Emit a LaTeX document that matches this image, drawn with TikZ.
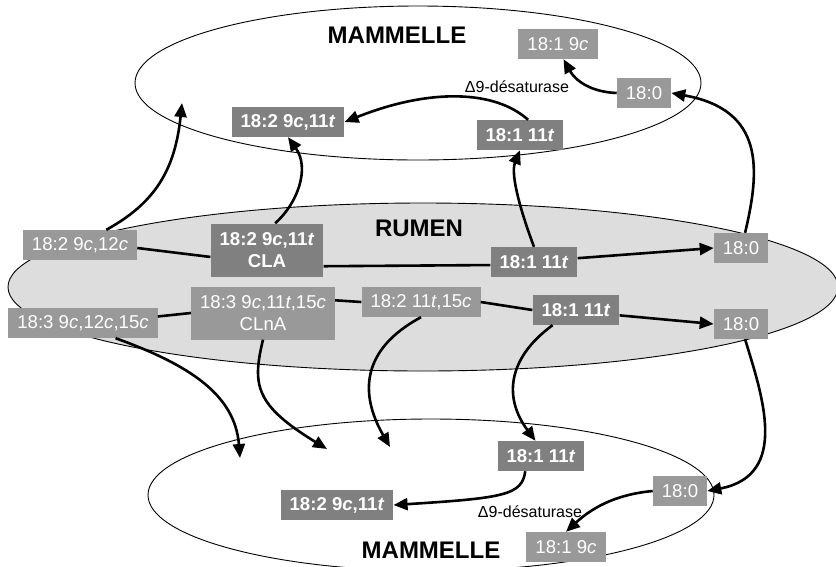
\documentclass[tikz,border=0pt]{standalone}
\usepackage{fontspec}
\setmainfont{Liberation Sans}
\usepackage{tikz}
\usetikzlibrary{arrows.meta}

\definecolor{acidclair}{RGB}{153,153,153}
\definecolor{acidfonce}{RGB}{128,128,128}
\definecolor{rumenfond}{RGB}{221,221,221}

\tikzset{
  acide/.style={fill=acidclair,text=white,inner xsep=9pt,inner ysep=0pt,minimum height=30pt,font=\fontsize{18.6}{22}\selectfont},
  acidegras/.style={acide,fill=acidfonce,font=\fontsize{18.6}{22}\selectfont\bfseries},
  deuxlignes/.style={align=center,minimum height=53pt},
  flux/.style={line width=2.6pt,-{Triangle[length=14pt,width=12pt]}},
  lien/.style={line width=2.6pt},
  titre/.style={font=\fontsize{24}{24}\selectfont\bfseries},
  enzyme/.style={font=\fontsize{16}{16}\selectfont}
}

\begin{document}
\begin{tikzpicture}[x=1pt,y=-1pt]
\useasboundingbox (0,0) rectangle (836,566);
\draw[line width=0.9pt] (418,83) ellipse [x radius=283, y radius=77];
\draw[line width=0.9pt,fill=rumenfond] (423,287) ellipse [x radius=415, y radius=84];
\draw[line width=0.9pt] (431,495) ellipse [x radius=283, y radius=76];

\node (tTitre) at (397,35) [titre] {MAMMELLE};
\node (tE) at (558,44) [acide] {18:1 9\textit{c}};
\node (tD) at (644,93) [acide] {18:0};
\node (tC) at (520,135) [acidegras] {18:1 11\textit{t}};
\node (tB) at (288,122) [acidegras] {18:2 9\textit{c},11\textit{t}};
\node (tEnz) at (517,87) [enzyme] {Δ9-désaturase};

\node (rTitre) at (419,228) [titre] {RUMEN};
\node (rA) at (80,245) [acide] {18:2 9\textit{c},12\textit{c}};
\node (rB) at (267,250) [acidegras,deuxlignes] {18:2 9\textit{c},11\textit{t}\\CLA};
\node (rC) at (534,262) [acidegras] {18:1 11\textit{t}};
\node (rD) at (741,248) [acide] {18:0};
\node (rE) at (83,323) [acide] {18:3 9\textit{c},12\textit{c},15\textit{c}};
\node (rF) at (263,313) [acide,deuxlignes] {18:3 9\textit{c},11\textit{t},15\textit{c}\\CLnA};
\node (rG) at (421,302) [acide] {18:2 11\textit{t},15\textit{c}};
\node (rH) at (576,310) [acidegras] {18:1 11\textit{t}};
\node (rI) at (741,324) [acide] {18:0};

\node (bTitre) at (431,550) [titre] {MAMMELLE};
\node (bD) at (541,456) [acidegras] {18:1 11\textit{t}};
\node (bF) at (337,505) [acidegras] {18:2 9\textit{c},11\textit{t}};
\node (bE) at (680,491) [acide] {18:0};
\node (bG) at (566,547) [acide] {18:1 9\textit{c}};
\node (bEnz) at (530,512) [enzyme] {Δ9-désaturase};

\coordinate (cHaut) at (182,103);
\coordinate (cBas1) at (240,458);
\coordinate (cBas2) at (327,449);
\coordinate (cBas3) at (390,447);

\draw[flux] (rA.30) .. controls (155,203) and (175,170) .. (cHaut);
\draw[flux] (rB.73) .. controls (298,203) and (310,168) .. (tB.south);
\draw[flux] (rC.north) .. controls (522,215) and (510,175) .. (tC.south);
\draw[flux] (rD.75) .. controls (760,170) and (765,110) .. (tD.east);
\draw[flux] (tC.62) .. controls (495,90) and (430,88) .. (tB.east);
\draw[flux] (tD.west) .. controls (590,92) and (575,80) .. (tE.-70);

\draw[lien] (rA.-3) -- (rB.187);
\draw[lien] (rB.-16) -- (rC.184);
\draw[flux] (rC.5) -- (rD.west);
\draw[lien] (rE.5) -- (rF.west);
\draw[lien] (rF.10) -- (rG.west);
\draw[lien] (rG.east) -- (rH.west);
\draw[flux] (rH.-7) -- (rI.west);

\draw[flux] (rE.-25) .. controls (190,365) and (235,395) .. (cBas1);
\draw[flux] (rF.south) .. controls (252,385) and (255,405) .. (cBas2);
\draw[flux] (rG.south) .. controls (360,350) and (360,395) .. (cBas3);
\draw[flux] (rH.-147) .. controls (505,360) and (505,400) .. (bD.110);
\draw[flux] (rI.-75) .. controls (762,395) and (790,475) .. (bE.east);
\draw[flux] (bD.-136) .. controls (522,495) and (505,498) .. (bF.east);
\draw[flux] (bE.west) .. controls (620,494) and (595,505) .. (bG.north);
\end{tikzpicture}
\end{document}
